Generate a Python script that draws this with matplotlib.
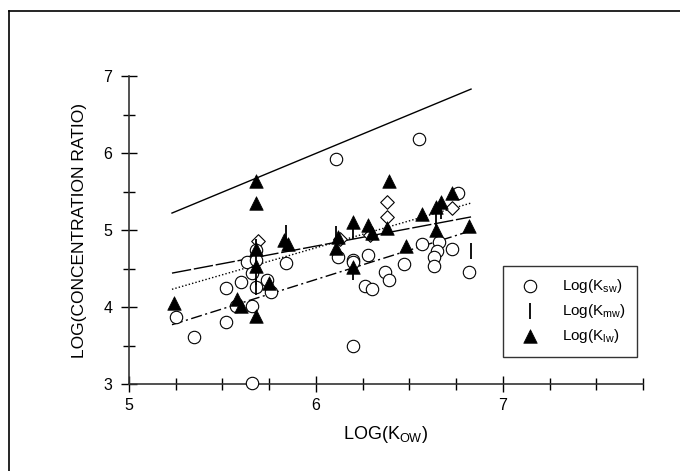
import matplotlib
matplotlib.use('Agg')
import matplotlib.pyplot as plt
from matplotlib.lines import Line2D
from matplotlib.ticker import MultipleLocator

plt.rcParams['font.family'] = ['Liberation Sans', 'DejaVu Sans']
plt.rcParams['mathtext.fontset'] = 'custom'
plt.rcParams['mathtext.rm'] = 'Liberation Sans'
plt.rcParams['mathtext.it'] = 'Liberation Sans'

# Log(Ksw) - circulos abiertos
ksw_x = [5.25, 5.35, 5.52, 5.52, 5.60, 5.57, 5.66, 5.68, 5.74, 5.76, 5.84, 5.66,
         5.68, 5.63, 5.68, 5.66, 6.11, 6.12, 6.20, 6.20, 6.28, 6.26, 6.30, 6.37,
         6.39, 6.20, 6.55, 6.57, 6.66, 6.65, 6.63, 6.63, 6.73, 6.47, 6.82, 6.76]
ksw_y = [3.87, 3.61, 3.81, 4.25, 4.32, 4.01, 4.01, 4.26, 4.35, 4.20, 4.57, 3.01,
         4.74, 4.58, 4.61, 4.44, 5.92, 4.65, 4.61, 4.58, 4.68, 4.27, 4.23, 4.45,
         4.35, 3.49, 6.18, 4.82, 4.85, 4.73, 4.65, 4.53, 4.75, 4.56, 4.46, 5.48]

# Log(Kmw) - barras verticales
kmw_x = [5.68, 5.68, 5.68, 5.68, 5.84, 6.11, 6.20, 6.20, 6.64, 6.67, 6.83]
kmw_y = [4.78, 4.58, 4.39, 4.26, 4.96, 4.95, 4.99, 4.45, 5.10, 5.25, 4.73]

# Log(Klw) - triangulos rellenos
klw_x = [5.24, 5.58, 5.60, 5.68, 5.75, 5.68, 5.68, 5.68, 5.68, 5.83, 5.85, 6.11,
         6.12, 6.20, 6.20, 6.28, 6.30, 6.38, 6.39, 6.57, 6.64, 6.67, 6.73, 6.64,
         6.48, 6.82]
klw_y = [4.05, 4.10, 4.01, 3.88, 4.31, 4.53, 5.64, 5.35, 4.75, 4.87, 4.82, 4.77,
         4.91, 5.10, 4.52, 5.06, 4.96, 5.03, 5.64, 5.21, 5.30, 5.36, 5.48, 5.00,
         4.79, 5.05]

# puntos sin leyenda (diamantes)
dia_x = [5.69, 5.65, 6.38, 6.38, 6.29, 6.73, 6.13]
dia_y = [4.86, 4.57, 5.37, 5.17, 4.93, 5.28, 4.88]

# rectas de regresion (extremos)
fit_x = [5.23, 6.83]
fit_solid = [5.22, 6.83]
fit_dotted = [4.23, 5.35]
fit_dashed = [4.44, 5.17]
fit_dashdot = [3.77, 4.99]

fig = plt.figure(figsize=(6.8, 4.71), dpi=100)
ax = fig.add_axes([129 / 680, 1 - 384 / 471, (643 - 129) / 680, (384 - 76) / 471])

ax.plot(fit_x, fit_solid, color='black', lw=1.0, linestyle='-')
ax.plot(fit_x, fit_dotted, color='black', lw=1.0, linestyle=(0, (1, 1.5)))
ax.plot(fit_x, fit_dashed, color='black', lw=1.0, linestyle=(0, (14, 2)))
ax.plot(fit_x, fit_dashdot, color='black', lw=1.0, linestyle=(0, (8, 2.5, 1.5, 2.5)))

ax.scatter(dia_x, dia_y, marker='D', s=48, facecolors='white', edgecolors='black',
           linewidths=0.8, clip_on=False, zorder=3)
ax.scatter(ksw_x, ksw_y, marker='o', s=80, facecolors='white', edgecolors='black',
           linewidths=0.8, clip_on=False, zorder=3, label=r'Log(K$_{\mathrm{sw}}$)')
ax.scatter(kmw_x, kmw_y, marker='|', s=120, color='black', linewidths=1.3,
           clip_on=False, zorder=4, label=r'Log(K$_{\mathrm{mw}}$)')
ax.scatter(klw_x, klw_y, marker='^', s=95, color='black', linewidths=0.5,
           clip_on=False, zorder=5, label=r'Log(K$_{\mathrm{lw}}$)')

ax.set_xlim(5, 7.75)
ax.set_ylim(3, 7)
ax.xaxis.set_major_locator(MultipleLocator(1))
ax.xaxis.set_minor_locator(MultipleLocator(0.25))
ax.yaxis.set_major_locator(MultipleLocator(1))
ax.yaxis.set_minor_locator(MultipleLocator(0.5))
ax.tick_params(which='major', direction='inout', length=12, width=1.0, labelsize=11.5, pad=4)
ax.tick_params(which='minor', direction='inout', length=9, width=1.0)
ax.tick_params(axis='y', which='major', pad=6)

for lado in ['top', 'right']:
    ax.spines[lado].set_visible(False)
for lado in ['left', 'bottom']:
    ax.spines[lado].set_linewidth(1.2)
    ax.spines[lado].set_color('#333333')

ax.set_xlabel(r'LOG(K$_{\mathrm{OW}}$)', fontsize=13, labelpad=8)
ax.set_ylabel('LOG(CONCENTRATION RATIO)', fontsize=12.5, labelpad=12)

leg = ax.legend(loc='upper left', bbox_to_anchor=(503 / 680, 1 - 266 / 471),
                bbox_transform=fig.transFigure, frameon=True, fancybox=False,
                edgecolor='black', fontsize=11, handletextpad=1.1,
                borderpad=0.75, labelspacing=0.45, borderaxespad=0,
                handlelength=2.0, scatterpoints=1)
leg.get_frame().set_linewidth(1.0)

# marco exterior
fig.add_artist(Line2D([9 / 680, 9 / 680], [0, 1 - 11 / 471], color='black', lw=1.2))
fig.add_artist(Line2D([9 / 680, 1], [1 - 11 / 471, 1 - 11 / 471], color='black', lw=1.2))

fig.savefig('out.png', dpi=100)
